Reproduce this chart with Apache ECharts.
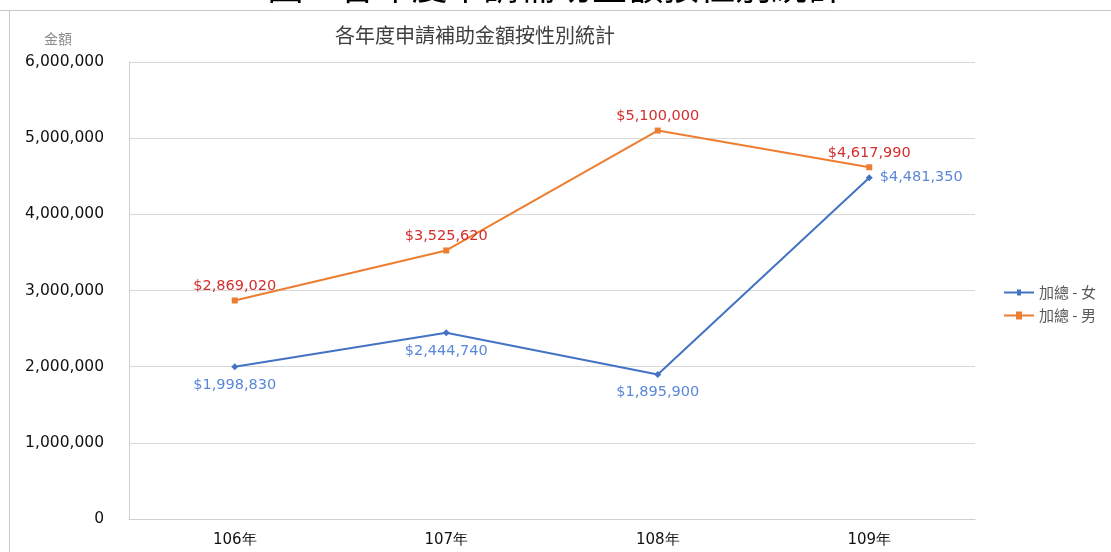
<!DOCTYPE html>
<html><head><meta charset="utf-8">
<script src="https://cdn.jsdelivr.net/npm/echarts@6/dist/echarts.min.js"></script>
<style>html,body{margin:0;padding:0;background:#fff}#c{width:1111px;height:552px}</style>
</head><body><div id="c"></div>
<script>
const categories = ['106年', '107年', '108年', '109年'];
const female = [1998830, 2444740, 1895900, 4481350];
const male = [2869020, 3525620, 5100000, 4617990];
const seriesNames = ['加總 - 女', '加總 - 男'];
const yTicks = { min: 0, max: 6000000, interval: 1000000 };

const fmt = v => v.toLocaleString('en-US');
const chart = echarts.init(document.getElementById('c'));
const femalePos = ['bottom', 'bottom', 'bottom', 'right'];
chart.setOption({
  animation: false,
  backgroundColor: '#fff',
  title: {
    text: '各年度申請補助金額按性別統計',
    left: 470, top: 20, textAlign: 'center',
    textStyle: { fontFamily: 'Noto Sans CJK TC', fontSize: 20, fontWeight: 'normal', color: '#404040' }
  },
  graphic: [
    { type: 'text', left: 'center', top: -32, style: { text: '圖 3 各年度申請補助金額按性別統計', font: '36px "Noto Sans CJK TC"', fill: '#000' } },
    { type: 'rect', shape: { x: 0, y: 10, width: 1111, height: 10 }, style: { fill: '#fff' } },
    { type: 'line', shape: { x1: 0, y1: 10.5, x2: 1111, y2: 10.5 }, style: { stroke: '#c8c8c8', lineWidth: 1 } },
    { type: 'line', shape: { x1: 9.5, y1: 10, x2: 9.5, y2: 552 }, style: { stroke: '#c8c8c8', lineWidth: 1 } },
    { type: 'text', left: 44, top: 32, style: { text: '金額', font: '14px "Noto Sans CJK TC"', fill: '#8c8c8c' } }
  ],
  legend: {
    orient: 'vertical', left: 999, top: 280, itemGap: 8, itemWidth: 30, itemHeight: 14,
    textStyle: { fontFamily: 'Noto Sans CJK TC', fontSize: 15, color: '#595959' },
    data: [{ name: seriesNames[0], icon: 'path://M0,6 L30,6 L30,8 L0,8 Z M13,4 L17,4 L17,10 L13,10 Z' }, { name: seriesNames[1], icon: 'path://M0,6 L30,6 L30,8 L0,8 Z M12,3 L18,3 L18,11 L12,11 Z' }]
  },
  grid: { left: 129, right: 136, top: 62, bottom: 33 },
  xAxis: {
    type: 'category', data: categories, boundaryGap: true,
    axisLine: { lineStyle: { color: '#d0d0d0' } }, axisTick: { show: false },
    axisLabel: { margin: 14, fontFamily: 'DejaVu Sans', fontSize: 15, color: '#111' }
  },
  yAxis: {
    type: 'value', min: yTicks.min, max: yTicks.max, interval: yTicks.interval,
    axisLine: { show: true, lineStyle: { color: '#d0d0d0' } }, axisTick: { show: false },
    splitLine: { lineStyle: { color: '#d9d9d9' } },
    axisLabel: { margin: 25, fontFamily: 'DejaVu Sans', fontSize: 15.5, color: '#111' }
  },
  series: [
    {
      name: seriesNames[0], type: 'line', data: female.map((v, i) => ({ value: v, label: { position: femalePos[i] } })),
      symbol: 'diamond', symbolSize: 7, color: '#4472c4', lineStyle: { width: 2, color: '#4472c4' },
      label: { show: true, distance: 7, formatter: p => '$' + fmt(p.value), fontFamily: 'DejaVu Sans', fontSize: 14.5, color: '#5a87d8' }
    },
    {
      name: seriesNames[1], type: 'line', data: male,
      symbol: 'rect', symbolSize: 6, color: '#ed7d31', lineStyle: { width: 2, color: '#ed7d31' },
      label: { show: true, position: 'top', distance: 4, formatter: p => '$' + fmt(p.value), fontFamily: 'DejaVu Sans', fontSize: 14.5, color: '#d42e2e' }
    }
  ]
});
chart.setOption({ yAxis: { axisLabel: { formatter: fmt } } });
</script></body></html>
